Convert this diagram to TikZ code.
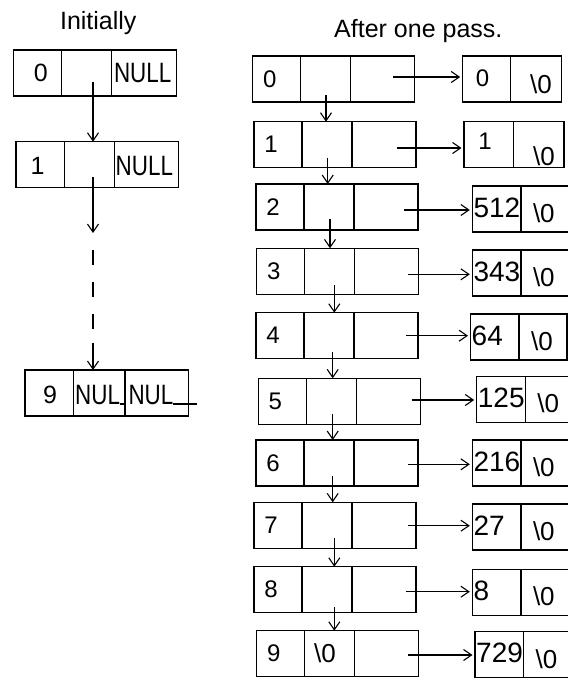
\documentclass[tikz,border=0pt]{standalone}
\usepackage{fontspec}
\setmainfont{Liberation Sans}
\newfontfamily\narrowfont[FakeStretch=0.8]{Liberation Sans}
\usetikzlibrary{arrows.meta}
\newcommand\fsz[1]{\fontsize{#1pt}{#1pt}\selectfont}

% one bucket of the list: key cell, pointer cell, result cell
\newcommand\bucket[4]{% name, key, x, y (top left corner)
  \node[cell,minimum width=48pt] (#1a) at (#3,#4) {};
  \node[cell,minimum width=50pt] (#1b) at (#1a.north east) {};
  \node[cell,minimum width=64pt] (#1c) at (#1b.north east) {};
  \node[keytext] (#1k) at ([xshift=17pt]#1a.west) {#2};
}
% the record a bucket points to: value cell and terminator cell
\newcommand\result[5]{% name, x, y, value, width of the terminator cell
  \node[cell,minimum width=48.5pt] (#1v) at (#2,#3) {};
  \node[cell,minimum width=#5pt] (#1e) at (#1v.north east) {};
  \node[valtext] (#1n) at ([xshift=1pt,yshift=1.5pt]#1v.west) {#4};
  \node[endtext] (#1z) at ([xshift=12pt,yshift=-4pt]#1e.west) {\textbackslash 0};
}
% pointer from a bucket to its record
\newcommand\pointer[3]{% name, x, y
  \coordinate (#1h) at (#2,#3);
  \draw[link,shorten >=2.5pt] (#1h) -- (#1h -| #1v.west);
}
% link from one bucket to the next
\newcommand\nextlink[4]{% from, to, x, y
  \coordinate (#1d) at (#3,#4);
  \draw[link] (#1d) -- (#1d |- #2a.north);
}

\begin{document}
\begin{tikzpicture}[x=1pt,y=-1pt,
  cell/.style={draw,rectangle,line width=1.4pt,minimum height=46pt,
    inner sep=0pt,outer sep=0pt,anchor=north west},
  link/.style={line width=1.1pt,-{Straight Barb[length=8pt,width=11pt]}},
  title/.style={font=\fsz{25},inner sep=0pt,anchor=base},
  keytext/.style={font=\fsz{24},inner sep=0pt},
  headtext/.style={font=\fsz{25},inner sep=0pt},
  nulltext/.style={font=\narrowfont\fsz{28},inner sep=0pt,anchor=west},
  valtext/.style={font=\fsz{28},inner sep=0pt,anchor=west},
  endtext/.style={font=\fsz{26},inner sep=0pt,anchor=west},
]
\useasboundingbox (0,0) rectangle (568,678);
\fill[white] (0,0) rectangle (568,678);
\clip (0,0) rectangle (568,678);

% ---------- initial state ----------
\node[title] (tInit) at (98.3,29) {Initially};

\node[cell,minimum width=48.4pt] (L0a) at (13.3,50) {};
\node[cell,minimum width=50pt] (L0b) at (L0a.north east) {};
\node[cell,minimum width=65pt] (L0c) at (L0b.north east) {};
\node[headtext] (L0k) at (40.8,73) {0};
\node[nulltext] (L0n) at (113.8,73) {NULL};

\node[cell,minimum width=48.3pt] (L1a) at (16,141.7) {};
\node[cell,minimum width=50pt] (L1b) at (L1a.north east) {};
\node[cell,minimum width=64pt] (L1c) at (L1b.north east) {};
\node[headtext] (L1k) at (37.5,166) {1};
\node[nulltext] (L1n) at (115.5,166) {NULL};

\node[cell,minimum width=48.3pt] (L9a) at (25,370) {};
\node[cell,minimum width=51.7pt] (L9b) at (L9a.north east) {};
\node[cell,minimum width=63.3pt] (L9c) at (L9b.north east) {};
\node[headtext] (L9k) at (50,395) {9};
\node[nulltext] (L9n) at (75,395) {NUL\rule{6pt}{1.1pt}};
\node[nulltext] (L9m) at (128.3,395) {NUL\rule{24pt}{1.1pt}};

\coordinate (L0p) at (93,82);
\draw[link] (L0p) -- (L0p |- L1b.north);
\coordinate (L1p) at (93,177);
\coordinate (gapA) at (93,233);
\coordinate (gapB) at (93,343);
\draw[link] (L1p) -- (gapA);
\draw[line width=1.1pt,dash pattern=on 15pt off 17pt,dash phase=15pt] (gapA) -- (gapB);
\draw[link] (gapB) -- (gapB |- L9b.north);

% ---------- after one pass ----------
\node[title] (tPass) at (418.3,37) {After one pass.};

\bucket{R0}{0}{252.7}{56}
\bucket{R1}{1}{254}{121.7}
\bucket{R2}{2}{256}{184}
\bucket{R3}{3}{256.7}{248.3}
\bucket{R4}{4}{256}{312.7}
\bucket{R5}{5}{258.3}{378.3}
\bucket{R6}{6}{256}{440}
\bucket{R7}{7}{254}{502.3}
\bucket{R8}{8}{254}{566.7}
\bucket{R9}{9}{256.7}{630.7}
\node[endtext,anchor=center] (R9m) at (325,653) {\textbackslash 0};

% records 0 and 1
\node[cell,minimum width=48pt] (R0v) at (462.7,56) {};
\node[cell,minimum width=51pt] (R0e) at (R0v.north east) {};
\node[keytext] (R0n) at (482.5,78.5) {0};
\node[endtext] (R0z) at (530,84) {\textbackslash 0};
\node[cell,minimum width=49.3pt] (R1v) at (464,121.7) {};
\node[cell,minimum width=50.7pt] (R1e) at (R1v.north east) {};
\node[keytext] (R1n) at (485,141) {1};
\node[endtext] (R1z) at (533,156) {\textbackslash 0};

\result{R2}{472.3}{186}{512}{52}
\result{R3}{472.3}{250}{343}{52}
\result{R4}{470.5}{314}{64}{48}
\result{R5}{476.7}{376.7}{125}{52}
\result{R6}{472.3}{440}{216}{52}
\result{R7}{472.3}{504}{27}{52}
\result{R8}{472.3}{569.3}{8}{52}
\result{R9}{475}{631.7}{729}{52}

\pointer{R0}{393}{77}
\pointer{R1}{397}{148}
\pointer{R2}{404}{210}
\pointer{R3}{408.3}{274.3}
\pointer{R4}{406}{335.7}
\pointer{R5}{411.7}{400}
\pointer{R6}{407.7}{464.3}
\pointer{R7}{407.7}{525.7}
\pointer{R8}{405.7}{591.7}
\pointer{R9}{407.7}{655}

\nextlink{R0}{R1}{326}{95}
\nextlink{R1}{R2}{327.7}{158}
\nextlink{R2}{R3}{330}{219.3}
\nextlink{R3}{R4}{334.3}{285}
\nextlink{R4}{R5}{332.7}{351.7}
\nextlink{R5}{R6}{332.7}{414}
\nextlink{R6}{R7}{332.7}{476}
\nextlink{R7}{R8}{334.3}{538.3}
\nextlink{R8}{R9}{334.3}{606.7}
\end{tikzpicture}
\end{document}
